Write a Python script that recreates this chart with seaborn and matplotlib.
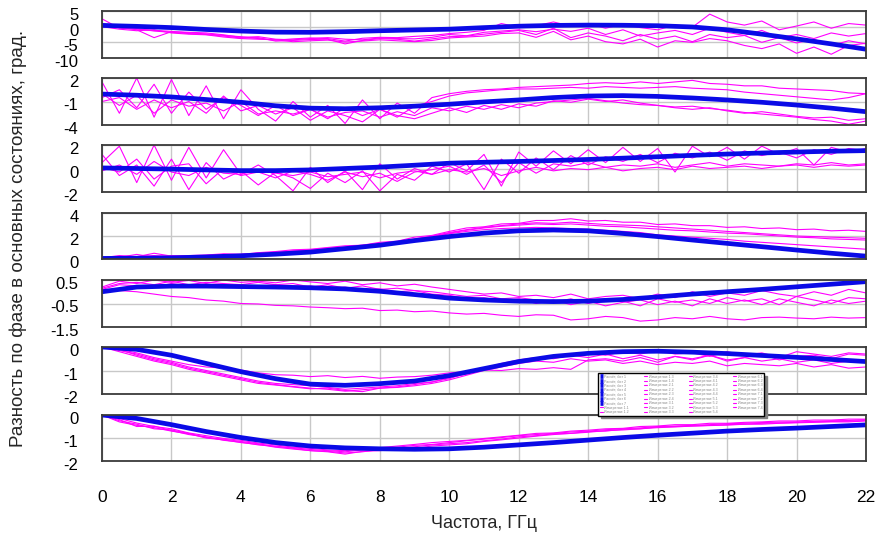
import matplotlib
matplotlib.use("Agg")
import matplotlib.pyplot as plt
import seaborn as sns
from matplotlib.transforms import ScaledTranslation

# ---------------- data ----------------
freq = [0.0, 0.5, 1.0, 1.5, 2.0, 2.5, 3.0, 3.5, 4.0, 4.5, 5.0, 5.5, 6.0, 6.5, 7.0, 7.5,
        8.0, 8.5, 9.0, 9.5, 10.0, 10.5, 11.0, 11.5, 12.0, 12.5, 13.0, 13.5, 14.0, 14.5,
        15.0, 15.5, 16.0, 16.5, 17.0, 17.5, 18.0, 18.5, 19.0, 19.5, 20.0, 20.5, 21.0,
        21.5, 22.0]
freq_model = [0, 1, 2, 3, 4, 5, 6, 7, 8, 9, 10, 11, 12, 13, 14, 15, 16, 17, 18, 19, 20, 21, 22]

# panel 1
model_1 = [0.4, 0.1, -0.3, -0.9, -1.4, -1.75, -1.8, -1.6, -1.3, -1.05, -0.8, -0.3, 0.15,
           0.4, 0.5, 0.45, 0.3, -0.1, -1.0, -2.4, -3.9, -5.5, -7.2]
meas_1a = [2.5, -0.5, -0.8, -1.2, -1.5, -2.0, -2.3, -2.8, -3.2, -3.8, -4.3, -3.9, -3.6, -3.8,
           -4.6, -3.7, -3.4, -3.5, -3.1, -2.8, -2.2, -1.8, -1.2, 1.0, -0.2, 0.3, 1.5, 0.2, 1.0,
           -0.5, 0.8, -0.3, -1.0, 0.5, -0.2, 4.0, 1.5, 0.5, 1.8, -1.0, 0.2, 1.5, -0.5, 1.0, 0.5]
meas_1b = [0.5, -0.2, -1.0, -3.5, -1.6, -1.8, -2.0, -2.6, -3.4, -3.2, -4.0, -4.2, -3.8, -3.5,
           -4.0, -4.2, -3.6, -3.8, -3.9, -3.4, -2.5, -2.9, -1.8, -1.4, -1.0, -1.6, -0.8, -1.5,
           -0.5, -2.5, -1.0, -3.0, -2.0, -1.2, -2.5, -0.5, -1.8, -2.8, -1.2, -3.5, -2.5, -3.8,
           -2.0, -3.0, -2.2]
meas_1c = [1.0, 0.2, -0.6, -1.4, -1.8, -2.2, -2.5, -3.0, -3.6, -3.5, -4.6, -4.4, -4.1, -4.0,
           -5.5, -4.4, -3.8, -4.0, -4.6, -3.9, -3.2, -3.0, -2.4, -1.8, -1.2, -2.5, -0.5, -3.5,
           -2.0, -3.0, -4.5, -2.5, -4.0, -3.0, -4.8, -2.5, -3.5, -2.8, -5.0, -3.5, -5.2, -4.0,
           -6.0, -4.5, -5.5]
meas_1d = [0.0, -0.8, -1.3, -1.0, -2.0, -2.4, -2.6, -3.3, -3.8, -4.0, -4.2, -4.8, -4.5, -4.3,
           -4.9, -4.6, -4.2, -4.5, -4.8, -4.4, -3.6, -3.3, -3.0, -2.2, -2.0, -3.4, -1.5, -4.2,
           -3.0, -4.8, -5.5, -4.0, -6.5, -4.5, -5.0, -3.8, -4.5, -6.0, -7.0, -5.5, -8.5, -6.5,
           -8.8, -6.0, -5.3]

# panel 2
model_2 = [-0.05, -0.2, -0.42, -0.75, -1.1, -1.55, -1.85, -1.92, -1.8, -1.6, -1.35, -1.05,
           -0.8, -0.5, -0.3, -0.25, -0.35, -0.55, -0.8, -1.1, -1.45, -1.85, -2.3]
meas_2a = [1.5, -2.5, 2.0, -3.0, 1.8, -2.8, 1.0, -3.2, 0.5, -2.0,
           -3.5, -1.0, -3.0, -1.5, -3.8, -0.8, -3.2, -1.2, -2.5, -0.5,
           0.0, 0.3, 0.5, 0.6, 0.8, 0.9, 1.0, 1.1, 1.3, 1.4, 1.3, 1.5, 1.3, 1.5, 1.7, 1.3, 1.2,
           1.0, 1.0, 0.7, 0.6, 0.5, 0.4, 0.1, 0.0]
meas_2b = [-0.5, 0.5, -1.8, 1.2, -2.5, 0.2, -2.0, -0.5, -1.5, -2.8,
           -1.5, -2.8, -2.0, -3.2, -1.8, -2.8, -2.0, -3.0, -1.6, -1.0,
           -0.3, 0.1, 0.3, 0.5, 0.6, 0.6, 0.7, 0.8, 0.7, 0.9, 0.8, 0.7, 0.8, 0.9, 0.7, 0.6, 0.5,
           0.2, 0.0, -0.2, -0.4, -0.6, -0.8, -0.5, 0.0]
meas_2c = [0.0, -1.5, -0.2, -2.5, -0.8, -1.6, -1.2, -2.2, -1.0, -2.6,
           -2.2, -2.6, -2.0, -3.0, -2.4, -2.2, -3.0, -2.3, -2.8, -1.8,
           -2.2, -1.6, -2.0, -1.4, -1.8, -1.2, -1.0, -0.8, -0.6, -0.9, -1.2, -1.4, -1.5, -1.7,
           -1.6, -1.9, -2.1, -2.4, -2.6, -2.8, -3.0, -3.3, -3.5, -3.9, -3.5]
meas_2d = [-1.0, -0.5, -2.0, -0.8, -1.8, -1.0, -2.5, -0.3, -2.2, -1.5,
           -2.6, -1.8, -3.4, -2.2, -2.8, -3.6, -2.0, -2.8, -3.2, -2.5,
           -1.8, -2.4, -1.5, -2.0, -1.3, -1.6, -0.9, -1.1, -0.7, -1.0, -0.8, -1.2, -1.5, -1.8,
           -2.0, -1.8, -2.2, -2.5, -2.3, -2.6, -2.9, -3.1, -3.0, -3.4, -3.2]

# panel 3
model_3 = [0.05, 0.0, -0.05, -0.12, -0.18, -0.18, -0.12, 0.0, 0.12, 0.28, 0.45, 0.53, 0.6,
           0.68, 0.77, 0.88, 1.0, 1.12, 1.23, 1.32, 1.4, 1.47, 1.52]
meas_3a = [0.5, 1.9, -1.2, 2.0, -1.0, 1.8, -0.8, 1.6, -0.5, 0.3,
           -0.6, -1.9, 0.1, -1.2, -0.2, -1.8, 0.4, -0.9, 0.0, -0.5,
           0.5, -0.2, 1.2, -1.5, 1.4, 0.2, 1.5, 0.4, 1.6, 0.5, 1.8, 0.6, 1.7, -0.3, 1.9, 1.0,
           1.8, 0.8, 1.9, 1.2, 1.7, 0.3, 1.8, 1.4, 1.7]
meas_3b = [1.2, -0.6, 0.3, -1.5, 0.8, -1.8, 0.5, -0.9, -0.2, -1.4,
           -0.3, -0.8, -1.7, -0.4, -1.2, -0.2, -1.9, -0.5, -1.0, 0.2,
           -0.3, 0.4, -1.8, 0.8, -0.4, 0.9, -0.1, 1.1, 0.3, 1.0, 0.6, 1.2, 0.5, 1.3, 0.9, 1.4,
           0.7, 1.5, 1.1, 1.4, 0.9, 1.6, 1.2, 1.7, 1.5]
meas_3c = [-0.2, 0.3, -0.5, 0.6, -0.3, -0.6, 0.1, -0.4, -0.5, -0.1,
           -0.4, -0.6, -0.3, -0.7, -0.5, -0.3, -0.8, -0.4, -0.2, -0.5,
           -0.1, -0.3, 0.0, -0.6, -0.2, 0.1, -0.2, 0.0, -0.1, 0.1, -0.2, 0.0, 0.1, -0.1, 0.2,
           0.0, 0.1, 0.2, 0.0, 0.2, 0.3, 0.1, 0.3, 0.2, 0.3]
meas_3d = [0.1, -0.3, 0.8, -0.9, 0.2, 0.4, -1.3, 0.0, -0.6, -0.3,
           -0.8, -0.2, -0.5, -1.0, -0.3, -0.7, -0.4, -1.1, -0.3, -0.1,
           0.2, -0.5, 0.3, -1.2, 0.5, -0.4, 0.4, 0.2, 0.5, 0.1, 0.3, 0.2, 0.4, 0.1, 0.3, 0.5,
           0.2, 0.4, 0.3, 0.2, 0.4, 0.3, 0.5, 0.3, 0.4]

# panel 4
model_4 = [0.05, 0.07, 0.1, 0.18, 0.28, 0.42, 0.6, 0.9, 1.2, 1.6, 1.95, 2.25, 2.45, 2.52,
           2.45, 2.22, 1.95, 1.65, 1.36, 1.07, 0.78, 0.5, 0.25]
meas_4a = [0.1, 0.3, 0.2, 0.5, 0.25, 0.3, 0.35, 0.45, 0.4, 0.55, 0.65, 0.8, 0.85, 1.0, 1.15,
           1.2, 1.45, 1.55, 1.9, 2.05, 2.4, 2.7, 2.8, 3.05, 3.1, 3.35, 3.35, 3.5, 3.3, 3.35,
           3.2, 3.2, 3.0, 3.05, 2.9, 2.9, 2.75, 2.8, 2.65, 2.7, 2.55, 2.6, 2.45, 2.5, 2.4]
meas_4b = [0.05, 0.15, 0.4, 0.15, 0.2, 0.3, 0.25, 0.4, 0.4, 0.5, 0.6, 0.7, 0.8, 0.95, 1.05,
           1.2, 1.35, 1.5, 1.75, 2.0, 2.3, 2.55, 2.75, 2.9, 3.05, 3.15, 3.1, 3.2, 3.1, 3.0,
           2.95, 2.9, 2.8, 2.7, 2.6, 2.5, 2.4, 2.3, 2.2, 2.1, 2.0, 1.95, 1.9, 1.85, 1.8]
meas_4c = [0.1, 0.1, 0.2, 0.3, 0.2, 0.25, 0.3, 0.35, 0.4, 0.45, 0.55, 0.6, 0.7, 0.8, 0.9,
           1.05, 1.2, 1.4, 1.6, 1.9, 2.2, 2.4, 2.55, 2.65, 2.7, 2.75, 2.7, 2.65, 2.6, 2.5, 2.4,
           2.3, 2.1, 2.0, 1.9, 1.8, 1.7, 1.55, 1.45, 1.35, 1.25, 1.15, 1.05, 0.95, 0.85]
meas_4d = [0.05, 0.2, 0.1, 0.2, 0.3, 0.2, 0.3, 0.4, 0.35, 0.5, 0.55, 0.7, 0.75, 0.85, 1.0,
           1.15, 1.3, 1.45, 1.7, 1.95, 2.25, 2.5, 2.7, 2.85, 2.95, 3.05, 3.0, 3.05, 2.95,
           2.85, 2.8, 2.7, 2.6, 2.5, 2.45, 2.35, 2.25, 2.2, 2.1, 2.0, 1.9, 1.85, 1.75, 1.7, 1.65]

# panel 5
model_5 = [0.0, 0.2, 0.24, 0.24, 0.22, 0.2, 0.17, 0.12, 0.02, -0.12, -0.27, -0.35, -0.4,
           -0.42, -0.4, -0.33, -0.22, -0.1, 0.0, 0.1, 0.21, 0.32, 0.43]
meas_5a = [0.2, 0.45, 0.35, 0.5, 0.4, 0.48, 0.35, 0.5, 0.4, 0.45, 0.38, 0.5, 0.42, 0.35,
           0.45, 0.3, 0.38, 0.25, 0.32, 0.2, 0.1, 0.0, -0.1, -0.05, -0.2, -0.15, -0.25, -0.1,
           -0.3, -0.2, -0.15, -0.3, -0.1, -0.25, 0.0, -0.2, -0.05, -0.15, 0.05, -0.1, -0.2,
           0.0, -0.15, 0.1, -0.05]
meas_5b = [0.1, 0.3, 0.25, 0.2, 0.35, 0.25, 0.3, 0.2, 0.28, 0.22, 0.3, 0.18, 0.25, 0.15,
           0.2, 0.1, 0.12, 0.0, 0.05, -0.1, -0.15, -0.3, -0.25, -0.4, -0.3, -0.5, -0.35, -0.55,
           -0.4, -0.6, -0.45, -0.35, -0.55, -0.4, -0.6, -0.3, -0.5, -0.35, -0.55, -0.3, -0.45,
           -0.6, -0.35, -0.5, -0.4]
meas_5c = [0.15, 0.35, 0.4, 0.3, 0.45, 0.3, 0.4, 0.35, 0.3, 0.4, 0.3, 0.35, 0.2, 0.3, 0.15,
           0.25, 0.1, 0.15, 0.05, 0.0, -0.1, -0.2, -0.15, -0.3, -0.25, -0.35, -0.45, -0.3,
           -0.5, -0.35, -0.4, -0.6, -0.3, -0.45, -0.35, -0.5, -0.25, -0.4, -0.3, -0.55, -0.2,
           -0.35, -0.5, -0.25, -0.3]
meas_5d = [0.1, 0.05, 0.0, -0.1, -0.2, -0.25, -0.35, -0.4, -0.5, -0.52, -0.58, -0.6, -0.65,
           -0.68, -0.72, -0.7, -0.8, -0.78, -0.85, -0.82, -0.9, -0.95, -0.92, -1.0, -1.05,
           -0.98, -1.0, -1.2, -1.15, -1.05, -1.1, -1.25, -1.2, -1.1, -1.15, -1.05, -1.15, -1.2,
           -1.1, -1.08, -1.12, -1.15, -1.08, -1.12, -1.1]

# panel 6
model_6 = [0.0, -0.1, -0.35, -0.7, -1.05, -1.35, -1.58, -1.63, -1.56, -1.45, -1.22, -0.92,
           -0.62, -0.4, -0.27, -0.2, -0.18, -0.22, -0.28, -0.36, -0.44, -0.53, -0.62]
meas_6a = [0.0, -0.1, -0.25, -0.45, -0.6, -0.75, -0.85, -0.9, -0.98, -1.1, -1.18, -1.2,
           -1.26, -1.22, -1.3, -1.25, -1.33, -1.28, -1.26, -1.2, -1.1, -1.05, -0.98, -1.0,
           -0.92, -0.95, -0.88, -0.95, -0.55, -0.5, -0.6, -0.45, -0.65, -0.4, -0.55, -0.35,
           -0.6, -0.45, -0.3, -0.55, -0.4, -0.35, -0.5, -0.3, -0.35]
meas_6b = [0.0, -0.15, -0.3, -0.5, -0.65, -0.85, -1.0, -1.15, -1.3, -1.45, -1.55, -1.6,
           -1.65, -1.72, -1.8, -1.75, -1.7, -1.65, -1.55, -1.5, -1.3, -1.15, -0.95, -0.8,
           -0.6, -0.5, -0.4, -0.3, -0.25, -0.35, -0.2, -0.3, -0.15, -0.3, -0.25, -0.4, -0.2,
           -0.35, -0.25, -0.45, -0.2, -0.3, -0.4, -0.25, -0.3]
meas_6c = [0.0, -0.1, -0.35, -0.55, -0.7, -0.9, -1.05, -1.2, -1.35, -1.5, -1.6, -1.68,
           -1.75, -1.8, -1.88, -1.82, -1.75, -1.7, -1.6, -1.48, -1.35, -1.1, -0.9, -0.7,
           -0.55, -0.45, -0.5, -0.35, -0.45, -0.3, -0.5, -0.35, -0.55, -0.4, -0.5, -0.35,
           -0.55, -0.45, -0.6, -0.5, -0.65, -0.55, -0.7, -0.6, -0.65]
meas_6d = [0.0, -0.2, -0.4, -0.6, -0.75, -0.95, -1.1, -1.25, -1.4, -1.55, -1.62, -1.7,
           -1.78, -1.75, -1.85, -1.9, -1.75, -1.72, -1.65, -1.55, -1.4, -1.2, -1.0, -0.85,
           -0.7, -0.6, -0.65, -0.5, -0.6, -0.55, -0.7, -0.6, -0.75, -0.65, -0.7, -0.6, -0.8,
           -0.7, -0.75, -0.8, -0.7, -0.85, -0.75, -0.9, -0.85]

# panel 7
model_7 = [0.0, -0.15, -0.42, -0.72, -0.98, -1.2, -1.35, -1.43, -1.47, -1.49, -1.47, -1.4,
           -1.3, -1.2, -1.09, -0.98, -0.88, -0.79, -0.7, -0.63, -0.57, -0.5, -0.43]
meas_7a = [0.0, -0.15, -0.35, -0.5, -0.6, -0.78, -0.9, -1.02, -1.1, -1.22, -1.3, -1.4,
           -1.45, -1.52, -1.55, -1.5, -1.42, -1.35, -1.28, -1.2, -1.15, -1.1, -1.02, -0.95,
           -0.88, -0.8, -0.78, -0.7, -0.66, -0.6, -0.58, -0.5, -0.48, -0.42, -0.42, -0.36,
           -0.36, -0.32, -0.3, -0.26, -0.26, -0.22, -0.22, -0.18, -0.18]
meas_7b = [0.0, -0.3, -0.45, -0.55, -0.7, -0.82, -1.0, -1.08, -1.2, -1.28, -1.4, -1.48,
           -1.55, -1.58, -1.65, -1.6, -1.5, -1.45, -1.38, -1.3, -1.25, -1.2, -1.12, -1.05,
           -0.95, -0.9, -0.82, -0.8, -0.72, -0.7, -0.62, -0.6, -0.52, -0.5, -0.48, -0.45,
           -0.42, -0.4, -0.36, -0.35, -0.32, -0.3, -0.28, -0.27, -0.24]
meas_7c = [0.0, -0.2, -0.5, -0.48, -0.68, -0.85, -0.95, -1.1, -1.18, -1.3, -1.35, -1.45,
           -1.55, -1.6, -1.7, -1.58, -1.55, -1.48, -1.45, -1.35, -1.3, -1.25, -1.15, -1.08,
           -1.0, -0.92, -0.85, -0.8, -0.75, -0.68, -0.65, -0.6, -0.55, -0.52, -0.48, -0.46,
           -0.44, -0.4, -0.4, -0.36, -0.34, -0.32, -0.3, -0.3, -0.26]
meas_7d = [0.0, -0.25, -0.4, -0.6, -0.65, -0.8, -0.98, -1.05, -1.15, -1.25, -1.38, -1.42,
           -1.5, -1.55, -1.6, -1.52, -1.48, -1.4, -1.32, -1.28, -1.2, -1.12, -1.05, -0.98,
           -0.9, -0.85, -0.8, -0.74, -0.7, -0.64, -0.6, -0.56, -0.5, -0.48, -0.45, -0.42,
           -0.38, -0.36, -0.33, -0.31, -0.3, -0.28, -0.25, -0.24, -0.2]

y_limits = [(-10, 5), (-4, 2), (-2, 2), (0, 4), (-1.5, 0.5), (-2, 0), (-2, 0)]
y_ticks = [[5, 0, -5, -10], [2, -1, -4], [2, 0, -2], [4, 2, 0],
           [0.5, -0.5, -1.5], [0, -1, -2], [0, -1, -2]]
y_ticklabels = [["5", "0", "-5", "-10"], ["2", "-1", "-4"], ["2", "0", "-2"],
                ["4", "2", "0"], ["0.5", "-0.5", "-1.5"], ["0", "-1", "-2"],
                ["0", "-1", "-2"]]
x_ticks = [0, 2, 4, 6, 8, 10, 12, 14, 16, 18, 20, 22]
x_ticklabels = ["0", "2", "4", "6", "8", "10", "12", "14", "16", "18", "20", "22"]

models = [model_1, model_2, model_3, model_4, model_5, model_6, model_7]
measurements = [[meas_1a, meas_1b, meas_1c, meas_1d],
                [meas_2a, meas_2b, meas_2c, meas_2d],
                [meas_3a, meas_3b, meas_3c, meas_3d],
                [meas_4a, meas_4b, meas_4c, meas_4d],
                [meas_5a, meas_5b, meas_5c, meas_5d],
                [meas_6a, meas_6b, meas_6c, meas_6d],
                [meas_7a, meas_7b, meas_7c, meas_7d]]
model_names = ["Расчёт, бит %d" % (i + 1) for i in range(7)]
meas_names = [["Измерение %d.%d" % (i + 1, j + 1) for j in range(4)] for i in range(7)]

x_label = "Частота, ГГц"
y_label = "Разность по фазе в основных состояниях, град."

# ---------------- style ----------------
sns.set_theme(style="white")
plt.rcParams["font.family"] = ["Liberation Sans", "DejaVu Sans"]
plt.rcParams["axes.unicode_minus"] = False

W, H = 878, 541
fig = plt.figure(figsize=(W / 100, H / 100), dpi=100)
fig.patch.set_facecolor("white")

panel_px = [(11, 58), (78, 125), (145, 192), (213, 259), (280, 327), (347, 394), (415, 461)]
left_px, right_px = 102, 866
BLUE = "#0a0ae6"
MAG = "#ff00ff"

model_lines = []
meas_lines = []
for i in range(7):
    top, bot = panel_px[i]
    ax = fig.add_axes([left_px / W, 1 - bot / H, (right_px - left_px) / W, (bot - top) / H])
    for j, m in enumerate(measurements[i]):
        sns.lineplot(x=freq, y=m, ax=ax, color=MAG, linewidth=0.8, estimator=None,
                     sort=False, legend=False)
        ln = ax.lines[-1]
        ln.set_label(meas_names[i][j])
        meas_lines.append(ln)
    sns.lineplot(x=freq_model, y=models[i], ax=ax, color=BLUE, linewidth=3.4,
                 estimator=None, sort=False, legend=False)
    ln = ax.lines[-1]
    ln.set_label(model_names[i])
    ln.set_solid_capstyle("butt")
    model_lines.append(ln)

    ax.set_xlim(0, 22)
    ax.set_ylim(*y_limits[i])
    ax.set_yticks(y_ticks[i])
    ax.set_yticklabels(y_ticklabels[i])
    ax.set_xticks(x_ticks)
    if i == 6:
        ax.set_xticklabels(x_ticklabels)
    else:
        ax.set_xticklabels([])
    ax.set_xlabel("")
    ax.set_ylabel("")
    ax.grid(True, color="#c8c8c8", linewidth=1.0)
    ax.set_axisbelow(True)
    ax.tick_params(axis="y", length=0, pad=17, labelsize=12, labelcolor="black")
    ax.tick_params(axis="x", length=0, pad=21, labelsize=12.5, labelcolor="black")
    for s in ax.spines.values():
        s.set_visible(True)
        s.set_color("#3a3a3a")
        s.set_linewidth(1.3)
    off = ScaledTranslation(0, -3 / 100, fig.dpi_scale_trans)
    for lab in ax.get_yticklabels():
        lab.set_transform(lab.get_transform() + off)

handles = model_lines + meas_lines
labels = [h.get_label() for h in handles]
leg = fig.legend(handles, labels, loc="upper left",
                 bbox_to_anchor=(598 / W, 1 - 411 / H, 166 / W, 38 / H), mode="expand",
                 ncol=4, fontsize=2.6, handlelength=0.9, handletextpad=0.4,
                 labelspacing=0.12, borderpad=0.45, borderaxespad=0, columnspacing=1.0,
                 frameon=True, fancybox=False, edgecolor="black", framealpha=1,
                 shadow={"color": "#808080", "alpha": 1})
leg.get_frame().set_linewidth(1.0)
for t in leg.get_texts():
    t.set_color("#8a8a8a")

fig.text(18 / W, 1 - 238 / H, y_label, rotation=90, ha="center", va="center", fontsize=13.6)
fig.text(484 / W, 1 - 523 / H, x_label, ha="center", va="center", fontsize=13)

fig.savefig("out.png", dpi=100)
